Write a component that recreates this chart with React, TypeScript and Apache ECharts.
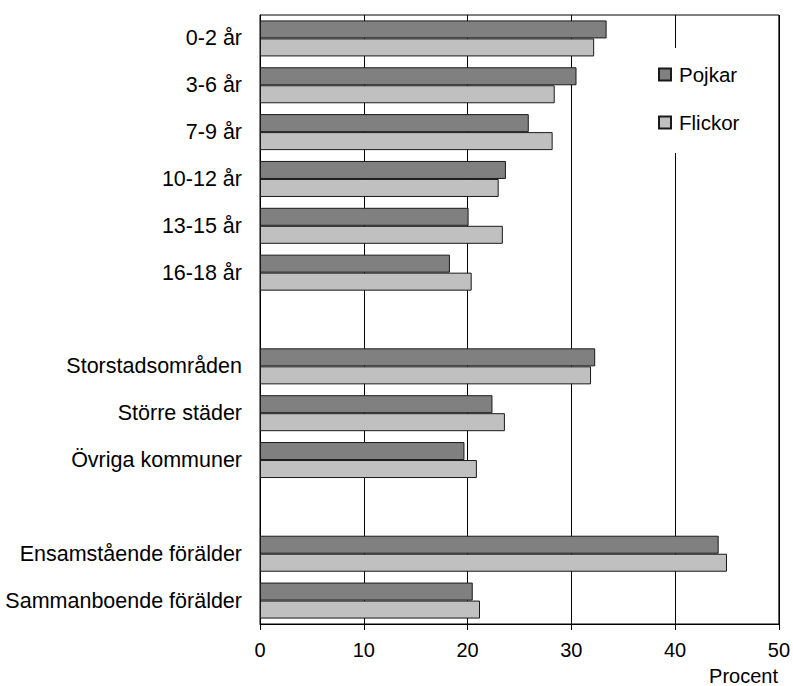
import React, { useEffect, useRef } from "react";
import * as echarts from "echarts";

const categories = [
  "0-2 år",
  "3-6 år",
  "7-9 år",
  "10-12 år",
  "13-15 år",
  "16-18 år",
  "",
  "Storstadsområden",
  "Större städer",
  "Övriga kommuner",
  " ",
  "Ensamstående förälder",
  "Sammanboende förälder",
];

const pojkar: (number | string)[] = [33.4, 30.5, 25.9, 23.7, 20.1, 18.3, "-", 32.3, 22.4, 19.7, "-", 44.2, 20.5];
const flickor: (number | string)[] = [32.2, 28.4, 28.2, 23.0, 23.4, 20.4, "-", 31.9, 23.6, 20.9, "-", 45.0, 21.2];

const xTicks = [0, 10, 20, 30, 40, 50];

const FONT = "'Liberation Sans', Arial, sans-serif";

export default function App() {
  const ref = useRef<HTMLDivElement>(null);
  useEffect(() => {
    if (!ref.current) return;
    const chart = echarts.init(ref.current, null, { renderer: "svg" });
    chart.setOption({
      animation: false,
      backgroundColor: "#fff",
      textStyle: { fontFamily: FONT },
      grid: {
        left: 260,
        right: 13,
        top: 15,
        bottom: 62,
        show: true,
        borderColor: "#000",
        borderWidth: 1,
        containLabel: false,
      },
      legend: {
        orient: "vertical",
        left: 648,
        top: 48,
        padding: [16, 12, 20, 10],
        backgroundColor: "#fff",
        itemWidth: 12,
        itemHeight: 12,
        itemGap: 27,
        icon: "rect",
        textStyle: { fontSize: 20.5, color: "#000", fontFamily: FONT, padding: [0, 0, 0, 3] },
        data: ["Pojkar", "Flickor"],
      },
      xAxis: {
        type: "value",
        min: xTicks[0],
        max: xTicks[xTicks.length - 1],
        interval: 10,
        axisLine: { show: true, lineStyle: { color: "#000", width: 1 } },
        axisTick: { show: true, length: 6, lineStyle: { color: "#000" } },
        axisLabel: { fontSize: 20, color: "#000", margin: 16, fontFamily: FONT },
        splitLine: { show: true, lineStyle: { color: "#000", width: 1 } },
      },
      yAxis: {
        type: "category",
        inverse: true,
        data: categories,
        axisLine: { show: true, lineStyle: { color: "#000", width: 1 } },
        axisTick: { show: false },
        axisLabel: { fontSize: 21.5, color: "#000", margin: 18, fontFamily: FONT },
        splitLine: { show: false },
      },
      graphic: [
        {
          type: "text",
          right: 15,
          top: 666,
          style: { text: "Procent", fontSize: 20, fill: "#000", fontFamily: FONT },
        },
      ],
      series: [
        {
          name: "Pojkar",
          type: "bar",
          data: pojkar,
          barWidth: 18,
          barGap: "0%",
          itemStyle: { color: "#808080", borderColor: "#1a1a1a", borderWidth: 1 },
        },
        {
          name: "Flickor",
          type: "bar",
          data: flickor,
          barWidth: 18,
          barGap: "0%",
          itemStyle: { color: "#c0c0c0", borderColor: "#1a1a1a", borderWidth: 1 },
        },
      ],
    });
    return () => chart.dispose();
  }, []);
  return <div ref={ref} style={{ position: "absolute", left: 0, top: 0, width: 793, height: 686 }} />;
}
